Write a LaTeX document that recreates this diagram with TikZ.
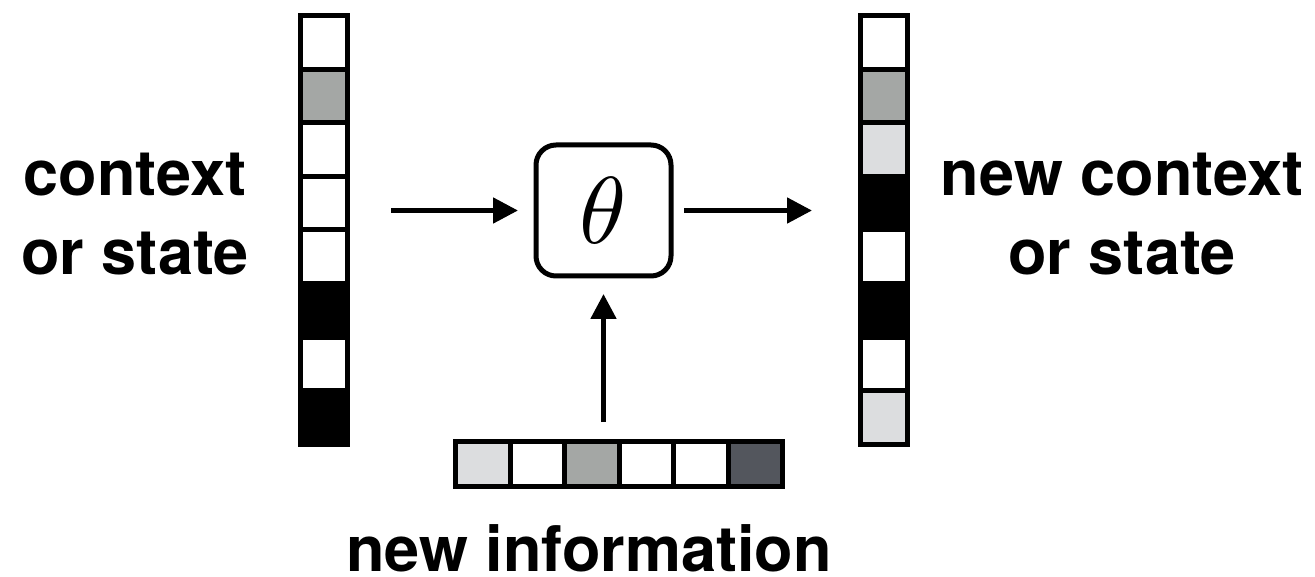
\documentclass[tikz,border=0pt]{standalone}
\usepackage{fontspec}
\newfontfamily\labfont{TeX Gyre Heros}
\DeclareFontShape{OML}{cmm}{m}{it}{<->cmmi10}{}
\usetikzlibrary{arrows.meta}
\definecolor{cmid}{HTML}{A4A7A5}
\definecolor{clight}{HTML}{DCDDDF}
\definecolor{cdark}{HTML}{53565D}
\begin{document}
\begin{tikzpicture}[x=1pt,y=-1pt,
  cellv/.style={draw=black,line width=5pt,minimum width=47pt,minimum height=53.625pt,inner sep=0pt,outer sep=0pt},
  cellh/.style={draw=black,line width=5pt,minimum width=54.5pt,minimum height=45pt,inner sep=0pt,outer sep=0pt},
  arr/.style={line width=5pt,-{Triangle[length=25pt,width=25pt]}},
  lab/.style={font=\labfont\bfseries\fontsize{63}{63}\selectfont,inner sep=0pt,anchor=base}]
\useasboundingbox (0,0) rectangle (1315,577);
% left column
\foreach \c [count=\i from 0] in {white,cmid,white,white,white,black,white,black}
  \node[cellv,fill=\c] (L\i) at (324,{42.3125+53.625*\i}) {};
% right column
\foreach \c [count=\i from 0] in {white,cmid,clight,black,white,black,white,clight}
  \node[cellv,fill=\c] (R\i) at (884,{42.3125+53.625*\i}) {};
% bottom row
\foreach \c [count=\i from 0] in {clight,white,cmid,white,white,cdark}
  \node[cellh,fill=\c] (B\i) at ({482.75+54.5*\i},464) {};
% theta box
\node[draw=black,line width=5pt,rounded corners=20pt,minimum width=135pt,minimum height=131pt,inner sep=0pt,outer sep=0pt]
  (theta) at (603.5,210.5) {\fontsize{95}{95}\selectfont$\theta$};
% arrows
\draw[arr,shorten <=43.5pt,shorten >=18pt] (L3.east |- theta.west) -- (theta.west);
\draw[arr,shorten <=13pt,shorten >=48.5pt] (theta.east) -- (R3.west |- theta.east);
\draw[arr,shorten <=19.5pt,shorten >=18pt] (theta.south |- B2.north) -- (theta.south);
% labels
\node[lab] (c1) at (135,196) {context};
\node[lab] (c2) at (135,275) {or state};
\node[lab] (n1) at (1122,196) {new context};
\node[lab] (n2) at (1122,275) {or state};
\node[lab] (ni) at (589,571) {new information};
\end{tikzpicture}
\end{document}
